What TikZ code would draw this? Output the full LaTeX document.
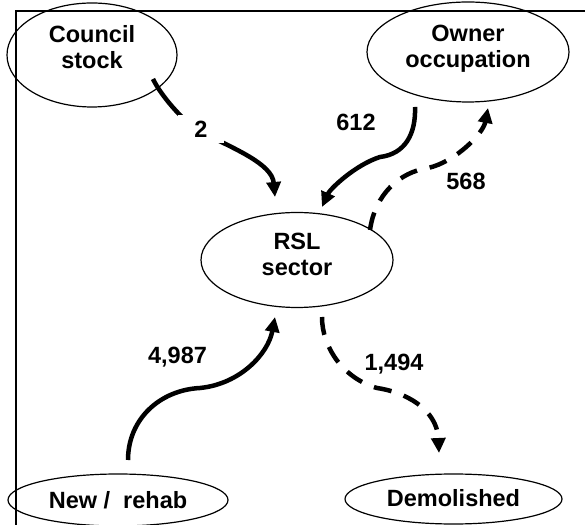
\documentclass[tikz,border=0pt]{standalone}
\usepackage{fontspec}
\setmainfont{Liberation Sans}
\usetikzlibrary{shapes.geometric, arrows.meta}
\tikzstyle{pool} = [ellipse, draw, line width=1.2pt, inner sep=0pt, align=center, font=\bfseries\fontsize{23.5}{26}\selectfont]
\tikzstyle{count} = [inner sep=0pt, font=\bfseries\fontsize{23.5}{26}\selectfont]
\tikzstyle{flow} = [-{Triangle[length=15pt, width=14pt]}, line width=4.5pt]
\tikzstyle{outflow} = [flow, dash pattern=on 18pt off 13pt]

\begin{document}
\begin{tikzpicture}[x=1pt, y=1pt]
    \useasboundingbox (0,0) rectangle (585,524);
    \clip (0,0) rectangle (585,524);
    % Frame
    \draw[line width=1.6pt] (16,-20) -- (16,513) -- (600,513);

    % Stocks
    \node[pool, minimum width=170pt, minimum height=104pt, text depth=17pt] (council) at (92,469) {Council\\stock};
    \node[pool, minimum width=202pt, minimum height=100pt, text depth=11pt] (owner) at (468,472) {Owner\\occupation};
    \node[pool, minimum width=192pt, minimum height=95pt, text depth=11pt] (rsl) at (297,264) {RSL\\sector};
    \node[pool, minimum width=220pt, minimum height=52pt] (newrehab) at (118,24) {New /~ rehab};
    \node[pool, minimum width=217pt, minimum height=50pt, text depth=3pt] (demolished) at (453.5,25) {Demolished};

    % Flows into the sector
    \draw[flow] ([xshift=61pt,yshift=-24pt]council.center) .. controls (160,430) and (183,402) .. (201,392)
        .. controls (235,375) and (272,360) .. ([xshift=-22pt,yshift=63pt]rsl.center);
    \draw[flow] ([xshift=-53pt,yshift=-55pt]owner.center) .. controls (416,390) and (405,370) .. (380,367)
        .. controls (355,359) and (330,335) .. ([xshift=25pt,yshift=53pt]rsl.center);
    \draw[flow] ([xshift=10pt,yshift=40pt]newrehab.center) .. controls (128,105) and (160,134) .. (200,136)
        .. controls (240,140) and (268,170) .. ([xshift=-22pt,yshift=-57pt]rsl.center);

    % Flows out of the sector
    \draw[outflow] ([xshift=73pt,yshift=30pt]rsl.center) .. controls (375,330) and (400,352) .. (428,356)
        .. controls (455,362) and (483,390) .. ([xshift=20pt,yshift=-56pt]owner.center);
    \draw[outflow] ([xshift=25pt,yshift=-57pt]rsl.center) .. controls (322,175) and (345,145) .. (377,136)
        .. controls (405,132) and (437,115) .. ([xshift=-14.5pt,yshift=46pt]demolished.center);

    % Numbers
    \node[count, fill=white, minimum width=46pt, minimum height=28pt] (two) at (201,394.5) {2};
    \node[count] (sixtwelve) at (356,401.5) {612};
    \node[count] (fivesixeight) at (466,343) {568};
    \node[count] (fournine) at (177.5,166.5) {4,987};
    \node[count] (onefour) at (394,159.5) {1,494};
\end{tikzpicture}
\end{document}
